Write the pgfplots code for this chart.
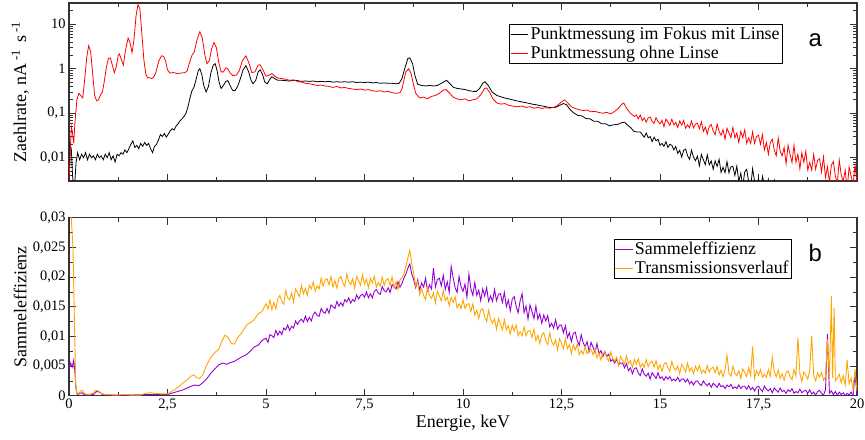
\documentclass[border=0pt]{standalone}
\usepackage{fontspec}
\setmainfont{Liberation Serif}
\newfontfamily\arialfont{Liberation Sans}
\usepackage{pgfplots}
\pgfplotsset{compat=1.18}
\definecolor{myviolet}{RGB}{148,0,211}
\definecolor{myorange}{RGB}{255,165,0}
\pgfplotsset{common/.style={
  width=788bp, height=178bp, scale only axis,
  xmin=0, xmax=20,
  xtick={0,2.5,5,7.5,10,12.5,15,17.5,20}, minor x tick num=1,
  tick align=inside, major tick length=7bp, minor tick length=4bp,
  axis line style={line width=1.1pt, black!80},
  tick style={black!80, line width=0.7pt},
  tick label style={font=\fontsize{14.5}{16}\selectfont},
  label style={font=\fontsize{18}{20}\selectfont},
  ylabel style={at={(axis description cs:-0.062,0.5)}, anchor=center},
  legend style={font=\fontsize{18}{20}\selectfont, draw=black, line width=0.6pt, inner sep=1pt, row sep=1pt, cells={anchor=west}},
  legend cell align=left,
}}
\begin{document}
\begin{tikzpicture}
\path[use as bounding box] (-69bp,3bp) rectangle (796bp,-437bp);
\begin{axis}[common, at={(0,0)}, anchor=north west,
  ymode=log, ymin=0.003, ymax=30,
  ytick={0.01,0.1,1,10}, yticklabels={{0,01},{0,1},1,10},
  minor ytick={0.003,0.004,0.005,0.006,0.007,0.008,0.009,0.02,0.03,0.04,0.05,0.06,0.07,0.08,0.09,0.2,0.3,0.4,0.5,0.6,0.7,0.8,0.9,2,3,4,5,6,7,8,9,20,30},
  xticklabels={,,,,,,,,},
  ylabel={Zaehlrate, nA\,\textsuperscript{-1}\, s\,\textsuperscript{-1}},
  legend style={at={(0.906,0.882)}, anchor=north east},
]
\addplot[black, line width=0.8pt] table[row sep=\\] {x y\\
0.00 0.003\\ 0.03 0.021\\ 0.06 0.015\\ 0.09 0.004\\ 0.12 0.002\\ 0.15 0.003\\ 0.18 0.008\\ 0.22 0.013\\ 0.27 0.009\\ 0.32 0.012\\
0.37 0.010\\ 0.42 0.013\\ 0.47 0.009\\ 0.52 0.012\\ 0.57 0.010\\ 0.62 0.011\\ 0.67 0.009\\ 0.72 0.012\\ 0.77 0.010\\ 0.82 0.011\\
0.87 0.009\\ 0.92 0.012\\ 0.97 0.010\\ 1.02 0.013\\ 1.07 0.009\\ 1.12 0.011\\ 1.17 0.008\\ 1.22 0.012\\ 1.27 0.011\\ 1.32 0.013\\
1.37 0.012\\ 1.42 0.015\\ 1.47 0.013\\ 1.52 0.016\\ 1.57 0.020\\ 1.62 0.024\\ 1.67 0.017\\ 1.72 0.019\\ 1.77 0.016\\ 1.82 0.021\\
1.87 0.018\\ 1.92 0.022\\ 1.97 0.019\\ 2.02 0.021\\ 2.07 0.016\\ 2.12 0.013\\ 2.17 0.018\\ 2.22 0.020\\ 2.27 0.025\\ 2.32 0.033\\
2.37 0.030\\ 2.42 0.035\\ 2.47 0.029\\ 2.52 0.034\\ 2.57 0.040\\ 2.62 0.045\\ 2.67 0.042\\ 2.72 0.052\\ 2.77 0.058\\ 2.82 0.068\\
2.87 0.075\\ 2.92 0.085\\ 2.97 0.10\\ 3.02 0.14\\ 3.07 0.22\\ 3.12 0.32\\ 3.17 0.38\\ 3.22 0.55\\ 3.28 0.90\\ 3.32 1.0\\
3.37 0.75\\ 3.42 0.42\\ 3.48 0.30\\ 3.54 0.40\\ 3.60 0.80\\ 3.66 1.2\\ 3.71 1.3\\ 3.76 0.90\\ 3.81 0.50\\ 3.86 0.36\\
3.92 0.42\\ 3.98 0.52\\ 4.03 0.54\\ 4.09 0.42\\ 4.15 0.33\\ 4.21 0.32\\ 4.28 0.40\\ 4.35 0.60\\ 4.42 0.95\\ 4.49 1.17\\
4.56 0.85\\ 4.62 0.55\\ 4.67 0.46\\ 4.74 0.55\\ 4.80 0.85\\ 4.85 0.95\\ 4.91 0.75\\ 4.97 0.50\\ 5.03 0.46\\ 5.10 0.58\\
5.15 0.66\\ 5.22 0.60\\ 5.30 0.55\\ 5.4 0.55\\ 5.5 0.54\\ 5.6 0.53\\ 5.7 0.55\\ 5.8 0.54\\ 5.9 0.52\\ 6.0 0.53\\
6.1 0.52\\ 6.2 0.53\\ 6.3 0.51\\ 6.4 0.52\\ 6.5 0.51\\ 6.6 0.52\\ 6.7 0.50\\ 6.8 0.51\\ 6.9 0.50\\ 7.0 0.51\\
7.1 0.50\\ 7.2 0.51\\ 7.3 0.49\\ 7.4 0.50\\ 7.5 0.49\\ 7.6 0.50\\ 7.7 0.48\\ 7.8 0.49\\ 7.9 0.47\\ 8.0 0.48\\
8.1 0.47\\ 8.2 0.47\\ 8.3 0.46\\ 8.38 0.47\\ 8.45 0.60\\ 8.52 1.0\\ 8.60 1.7\\ 8.65 1.76\\ 8.72 1.3\\ 8.78 0.70\\
8.85 0.45\\ 8.95 0.42\\ 9.05 0.41\\ 9.15 0.42\\ 9.25 0.41\\ 9.35 0.42\\ 9.43 0.46\\ 9.50 0.50\\ 9.58 0.55\\ 9.66 0.47\\
9.76 0.38\\ 9.86 0.36\\ 9.96 0.35\\ 10.06 0.34\\ 10.16 0.32\\ 10.26 0.31\\ 10.34 0.31\\ 10.42 0.36\\ 10.50 0.47\\ 10.56 0.51\\
10.64 0.42\\ 10.74 0.30\\ 10.86 0.25\\ 10.96 0.235\\ 11.06 0.22\\ 11.16 0.21\\ 11.26 0.20\\ 11.36 0.19\\ 11.46 0.182\\ 11.56 0.175\\
11.66 0.168\\ 11.76 0.16\\ 11.86 0.155\\ 11.96 0.148\\ 12.06 0.143\\ 12.16 0.136\\ 12.26 0.134\\ 12.36 0.136\\ 12.45 0.15\\ 12.55 0.165\\
12.63 0.155\\ 12.72 0.12\\ 12.82 0.10\\ 12.92 0.089\\ 13.02 0.087\\ 13.12 0.076\\ 13.22 0.075\\ 13.32 0.066\\ 13.42 0.066\\ 13.52 0.058\\
13.62 0.058\\ 13.72 0.052\\ 13.82 0.055\\ 13.92 0.056\\ 14.02 0.061\\ 14.10 0.063\\ 14.18 0.054\\ 14.26 0.047\\ 14.34 0.039\\ 14.42 0.038\\
14.50 0.038\\ 14.55 0.033\\ 14.60 0.029\\ 14.65 0.036\\ 14.70 0.028\\ 14.75 0.030\\ 14.80 0.023\\ 14.85 0.029\\ 14.90 0.024\\ 14.95 0.026\\
15.00 0.019\\ 15.05 0.021\\ 15.10 0.018\\ 15.15 0.023\\ 15.20 0.017\\ 15.25 0.020\\ 15.30 0.019\\ 15.35 0.015\\ 15.40 0.018\\ 15.45 0.0125\\
15.50 0.0147\\ 15.55 0.0103\\ 15.60 0.0147\\ 15.65 0.0156\\ 15.70 0.0111\\ 15.75 0.0092\\ 15.80 0.0148\\ 15.85 0.0103\\ 15.90 0.0086\\ 15.95 0.0108\\
16.00 0.0066\\ 16.05 0.0118\\ 16.10 0.0090\\ 16.15 0.0070\\ 16.20 0.0116\\ 16.25 0.0069\\ 16.30 0.0085\\ 16.35 0.0055\\ 16.40 0.0085\\ 16.45 0.0064\\
16.50 0.0092\\ 16.55 0.0047\\ 16.60 0.0061\\ 16.65 0.0046\\ 16.70 0.0082\\ 16.75 0.0046\\ 16.80 0.0062\\ 16.85 0.0064\\ 16.90 0.0040\\ 16.95 0.0065\\
17.00 0.0029\\ 17.05 0.0045\\ 17.10 0.0023\\ 17.15 0.0048\\ 17.20 0.0055\\ 17.25 0.0029\\ 17.30 0.0021\\ 17.35 0.0057\\ 17.40 0.0030\\ 17.45 0.0022\\
17.50 0.0034\\ 17.55 0.0015\\ 17.60 0.0038\\ 17.65 0.0025\\ 17.70 0.0017\\ 17.75 0.0032\\ 17.80 0.0016\\ 17.85 0.0021\\ 17.90 0.0031\\ 17.95 0.0014\\
18.00 0.0010\\ 20.00 0.0005\\
};
\addlegendentry{Punktmessung im Fokus mit Linse}
\addplot[red, line width=0.8pt] table[row sep=\\] {x y\\
0.00 0.003\\ 0.03 0.012\\ 0.06 0.05\\ 0.09 0.035\\ 0.12 0.021\\ 0.15 0.06\\ 0.20 0.20\\ 0.25 0.28\\ 0.30 0.25\\ 0.35 0.22\\
0.40 0.6\\ 0.45 1.8\\ 0.50 3.3\\ 0.55 2.4\\ 0.60 0.8\\ 0.65 0.25\\ 0.70 0.19\\ 0.75 0.20\\ 0.80 0.26\\ 0.85 0.30\\
0.90 0.55\\ 0.95 1.1\\ 1.00 1.7\\ 1.05 1.75\\ 1.10 1.2\\ 1.15 0.82\\ 1.20 1.1\\ 1.25 2.0\\ 1.28 2.15\\ 1.33 1.6\\
1.38 1.2\\ 1.43 2.5\\ 1.50 4.9\\ 1.55 3.8\\ 1.60 2.3\\ 1.65 4.5\\ 1.70 15\\ 1.75 28\\ 1.80 22\\ 1.85 6\\
1.90 1.6\\ 1.95 0.75\\ 2.00 0.62\\ 2.05 0.63\\ 2.10 0.60\\ 2.15 0.65\\ 2.20 0.8\\ 2.28 1.5\\ 2.35 1.95\\ 2.40 1.9\\
2.45 1.5\\ 2.50 0.95\\ 2.56 0.80\\ 2.65 0.82\\ 2.75 0.78\\ 2.85 0.80\\ 2.95 0.82\\ 3.00 0.9\\ 3.05 1.3\\ 3.12 2.0\\
3.18 2.4\\ 3.25 4.5\\ 3.32 6.8\\ 3.38 5.0\\ 3.45 2.0\\ 3.50 1.3\\ 3.56 1.5\\ 3.62 2.8\\ 3.68 3.9\\ 3.74 3.0\\
3.80 1.4\\ 3.86 0.85\\ 3.92 0.85\\ 3.98 1.05\\ 4.03 1.0\\ 4.09 0.8\\ 4.16 0.70\\ 4.25 0.72\\ 4.32 0.9\\ 4.40 1.5\\
4.49 1.95\\ 4.56 1.4\\ 4.64 0.82\\ 4.72 0.85\\ 4.80 1.2\\ 4.85 1.23\\ 4.92 0.95\\ 5.00 0.68\\ 5.08 0.72\\ 5.15 0.78\\
5.22 0.68\\ 5.30 0.62\\ 5.4 0.60\\ 5.5 0.58\\ 5.6 0.55\\ 5.7 0.56\\ 5.8 0.52\\ 5.9 0.50\\ 6.0 0.47\\ 6.1 0.46\\
6.2 0.44\\ 6.3 0.42\\ 6.4 0.43\\ 6.5 0.41\\ 6.6 0.40\\ 6.7 0.38\\ 6.8 0.40\\ 6.9 0.37\\ 7.0 0.38\\ 7.1 0.36\\
7.2 0.35\\ 7.3 0.34\\ 7.4 0.35\\ 7.5 0.33\\ 7.6 0.34\\ 7.7 0.32\\ 7.8 0.31\\ 7.9 0.32\\ 8.0 0.30\\ 8.1 0.31\\
8.2 0.29\\ 8.3 0.28\\ 8.4 0.29\\ 8.45 0.35\\ 8.50 0.55\\ 8.55 0.85\\ 8.62 1.0\\ 8.68 0.8\\ 8.74 0.45\\ 8.80 0.28\\
8.9 0.22\\ 9.0 0.23\\ 9.1 0.21\\ 9.2 0.24\\ 9.3 0.25\\ 9.4 0.28\\ 9.5 0.33\\ 9.57 0.34\\ 9.65 0.29\\ 9.75 0.23\\
9.85 0.21\\ 9.95 0.20\\ 10.05 0.21\\ 10.15 0.19\\ 10.25 0.20\\ 10.35 0.21\\ 10.45 0.26\\ 10.55 0.36\\ 10.60 0.37\\ 10.68 0.29\\
10.76 0.21\\ 10.86 0.17\\ 10.96 0.16\\ 11.06 0.165\\ 11.16 0.15\\ 11.26 0.145\\ 11.37 0.14\\ 11.5 0.145\\ 11.6 0.135\\ 11.7 0.14\\
11.8 0.13\\ 11.9 0.135\\ 12.0 0.128\\ 12.1 0.133\\ 12.2 0.13\\ 12.3 0.135\\ 12.4 0.15\\ 12.5 0.18\\ 12.58 0.20\\ 12.66 0.17\\
12.75 0.14\\ 12.85 0.128\\ 12.95 0.12\\ 13.05 0.115\\ 13.15 0.118\\ 13.25 0.108\\ 13.35 0.11\\ 13.45 0.104\\ 13.55 0.10\\ 13.65 0.105\\
13.75 0.097\\ 13.85 0.11\\ 13.95 0.13\\ 14.03 0.16\\ 14.08 0.17\\ 14.15 0.13\\ 14.25 0.10\\ 14.35 0.085\\
14.40 0.091\\ 14.45 0.075\\ 14.50 0.091\\ 14.55 0.068\\ 14.60 0.078\\ 14.65 0.063\\ 14.70 0.079\\ 14.75 0.082\\ 14.80 0.066\\ 14.85 0.059\\
14.90 0.080\\ 14.95 0.065\\ 15.00 0.058\\ 15.05 0.069\\ 15.10 0.050\\ 15.15 0.074\\ 15.20 0.064\\ 15.25 0.053\\ 15.30 0.074\\ 15.35 0.055\\
15.40 0.062\\ 15.45 0.048\\ 15.50 0.067\\ 15.55 0.054\\ 15.60 0.069\\ 15.65 0.046\\ 15.70 0.055\\ 15.75 0.047\\ 15.80 0.067\\ 15.85 0.047\\
15.90 0.057\\ 15.95 0.060\\ 16.00 0.045\\ 16.05 0.064\\ 16.10 0.039\\ 16.15 0.049\\ 16.20 0.034\\ 16.25 0.051\\ 16.30 0.056\\ 16.35 0.040\\
16.40 0.033\\ 16.45 0.057\\ 16.50 0.039\\ 16.55 0.032\\ 16.60 0.043\\ 16.65 0.026\\ 16.70 0.046\\ 16.75 0.036\\ 16.80 0.028\\ 16.85 0.048\\
16.90 0.028\\ 16.95 0.036\\ 17.00 0.022\\ 17.05 0.039\\ 17.10 0.028\\ 17.15 0.042\\ 17.20 0.021\\ 17.25 0.028\\ 17.30 0.021\\ 17.35 0.038\\
17.40 0.021\\ 17.45 0.030\\ 17.50 0.032\\ 17.55 0.020\\ 17.60 0.033\\ 17.65 0.015\\ 17.70 0.022\\ 17.75 0.012\\ 17.80 0.022\\ 17.85 0.026\\
17.90 0.015\\ 17.95 0.011\\ 18.00 0.028\\ 18.05 0.014\\ 18.10 0.011\\ 18.15 0.017\\ 18.20 0.0073\\ 18.25 0.019\\ 18.30 0.012\\ 18.35 0.0078\\
18.40 0.019\\ 18.45 0.0079\\ 18.50 0.012\\ 18.55 0.0056\\ 18.60 0.013\\ 18.65 0.0079\\ 18.70 0.014\\ 18.75 0.0053\\ 18.80 0.0078\\ 18.85 0.0053\\
18.90 0.012\\ 18.95 0.0055\\ 19.00 0.0087\\ 19.05 0.0095\\ 19.10 0.0048\\ 19.15 0.0105\\ 19.20 0.0036\\ 19.25 0.0062\\ 19.30 0.0028\\ 19.35 0.0068\\
19.40 0.0082\\ 19.45 0.0039\\ 19.50 0.0027\\ 19.55 0.0088\\ 19.60 0.0041\\ 19.65 0.0030\\ 19.70 0.0052\\ 19.75 0.0020\\ 19.80 0.0062\\ 19.85 0.0039\\
19.90 0.0025\\ 19.95 0.0068\\ 20.00 0.0027\\
};
\addlegendentry{Punktmessung ohne Linse}
\node[font=\arialfont\fontsize{24}{26}\selectfont] at (rel axis cs:0.947,0.79) {a};
\end{axis}

\begin{axis}[common, at={(0,-214.7bp)}, anchor=north west,
  ymin=0, ymax=0.03, scaled y ticks=false,
  ytick={0,0.005,0.01,0.015,0.02,0.025,0.03},
  yticklabels={0,{0,005},{0,01},{0,015},{0,02},{0,025},{0,03}},
  minor y tick num=1,
  xticklabels={0,{2,5},5,{7,5},10,{12,5},15,{17,5},20},
  xlabel={Energie, keV},
  xlabel style={at={(axis description cs:0.5,-0.152)}, anchor=center},
  ylabel={Sammeleffizienz},
  legend style={at={(0.9175,0.882)}, anchor=north east},
]
\addplot[myviolet, line width=0.9pt] table[row sep=\\] {x y\\
0.00 0.0045\\ 0.04 0.0055\\ 0.08 0.0048\\ 0.12 0.0060\\ 0.15 0.0040\\ 0.18 0.0010\\ 0.22 0.0002\\ 0.28 0.0004\\ 0.33 0.0005\\ 0.38 0.0002\\
0.50 0.0001\\ 0.62 0.0002\\ 0.70 0.0007\\ 0.78 0.0006\\ 0.85 0.0002\\ 1.0 0.0001\\ 1.5 0.0001\\ 2.0 0.0002\\ 2.5 0.0002\\ 2.6 0.0004\\
2.7 0.0006\\ 2.8 0.0008\\ 2.9 0.0010\\ 3.0 0.0013\\ 3.1 0.0016\\ 3.2 0.0018\\ 3.3 0.0017\\ 3.4 0.0022\\ 3.5 0.0029\\ 3.6 0.0038\\
3.7 0.0045\\ 3.8 0.0052\\ 3.9 0.0055\\ 4.0 0.0053\\ 4.1 0.0056\\ 4.2 0.0058\\ 4.3 0.0062\\ 4.4 0.0066\\ 4.5 0.0069\\ 4.6 0.0075\\
4.7 0.0082\\ 4.8 0.0085\\ 4.9 0.0093\\
5.00 .0097\\ 5.05 .0090\\ 5.10 .0103\\ 5.15 .0101\\ 5.20 .0098\\ 5.25 .0110\\ 5.30 .0102\\ 5.35 .0109\\ 5.40 .0103\\ 5.45 .0114\\
5.50 .0111\\ 5.55 .0119\\ 5.60 .0110\\ 5.65 .0117\\ 5.70 .0114\\ 5.75 .0126\\ 5.80 .0120\\ 5.85 .0126\\ 5.90 .0129\\ 5.95 .0124\\
6.00 .0134\\ 6.05 .0125\\ 6.10 .0132\\ 6.15 .0126\\ 6.20 .0137\\ 6.25 .0141\\ 6.30 .0135\\ 6.35 .0134\\ 6.40 .0147\\ 6.45 .0141\\
6.50 .0139\\ 6.55 .0147\\ 6.60 .0139\\ 6.65 .0153\\ 6.70 .0150\\ 6.75 .0147\\ 6.80 .0159\\ 6.85 .0151\\ 6.90 .0157\\ 6.95 .0151\\
7.00 .0162\\ 7.05 .0158\\ 7.10 .0165\\ 7.15 .0156\\ 7.20 .0162\\ 7.25 .0159\\ 7.30 .0170\\ 7.35 .0163\\ 7.40 .0169\\ 7.45 .0171\\
7.50 .0166\\ 7.55 .0175\\ 7.60 .0165\\ 7.65 .0172\\ 7.70 .0165\\ 7.75 .0176\\ 7.80 .0179\\ 7.85 .0173\\ 7.90 .0171\\ 7.95 .0184\\
8.00 .0177\\ 8.05 .0175\\ 8.10 .0182\\ 8.15 .0174\\ 8.20 .0187\\ 8.25 .0184\\ 8.30 .0180\\ 8.35 .0192\\ 8.40 .0183\\ 8.45 .0189\\
8.50 .0198\\ 8.55 .0205\\ 8.60 .0215\\ 8.65 .0222\\ 8.70 .0205\\ 8.75 .0195\\ 8.80 .0182\\ 8.85 .0195\\ 8.90 .0178\\ 8.95 .0190\\
9.00 .0183\\ 9.05 .0198\\ 9.10 .0177\\ 9.15 .0187\\ 9.20 .0180\\ 9.25 .0215\\ 9.30 .0183\\ 9.35 .0196\\ 9.40 .0198\\ 9.45 .0185\\
9.50 .0203\\ 9.55 .0179\\ 9.60 .0192\\ 9.65 .0174\\ 9.70 .0218\\ 9.75 .0199\\ 9.80 .0182\\ 9.85 .0174\\ 9.90 .0201\\ 9.95 .0184\\
10.00 .0176\\ 10.05 .0188\\ 10.10 .0166\\ 10.15 .0205\\ 10.20 .0180\\ 10.25 .0169\\ 10.30 .0191\\ 10.35 .0169\\ 10.40 .0178\\ 10.45 .0160\\
10.50 .0180\\ 10.55 .0168\\ 10.60 .0182\\ 10.65 .0159\\ 10.70 .0168\\ 10.75 .0159\\ 10.80 .0179\\ 10.85 .0160\\ 10.90 .0171\\ 10.95 .0172\\
11.00 .0157\\ 11.05 .0174\\ 11.10 .0150\\ 11.15 .0161\\ 11.20 .0143\\ 11.25 .0163\\ 11.30 .0167\\ 11.35 .0150\\ 11.40 .0140\\ 11.45 .0160\\
11.50 .0172\\ 11.55 .0140\\ 11.60 .0151\\ 11.65 .0129\\ 11.70 .0153\\ 11.75 .0142\\ 11.80 .0130\\ 11.85 .0151\\ 11.90 .0129\\ 11.95 .0138\\
12.00 .0122\\ 12.05 .0136\\ 12.10 .0126\\ 12.15 .0135\\ 12.20 .0116\\ 12.25 .0122\\ 12.30 .0114\\ 12.35 .0128\\ 12.40 .0112\\ 12.45 .0119\\
12.50 .0119\\ 12.55 .0106\\ 12.60 .0118\\ 12.65 .0098\\ 12.70 .0106\\ 12.75 .0091\\ 12.80 .0105\\ 12.85 .0107\\ 12.90 .0093\\ 12.95 .0085\\
13.00 .0103\\ 13.05 .0089\\ 13.10 .0083\\ 13.15 .0091\\ 13.20 .0074\\ 13.25 .0090\\ 13.30 .0082\\ 13.35 .0073\\ 13.40 .0088\\ 13.45 .0071\\
13.50 .0076\\ 13.55 .0066\\ 13.60 .0074\\ 13.65 .0066\\ 13.70 .0070\\ 13.75 .0058\\ 13.80 .0061\\ 13.85 .0055\\ 13.90 .0062\\ 13.95 .0052\\
14.00 .0055\\ 14.05 .0055\\ 14.10 .0047\\ 14.15 .0054\\ 14.20 .0042\\ 14.25 .0047\\ 14.30 .0037\\ 14.35 .0046\\ 14.40 .0047\\ 14.45 .0038\\
14.50 .0034\\ 14.55 .0045\\ 14.60 .0036\\ 14.65 .0033\\ 14.70 .0038\\ 14.75 .0028\\ 14.80 .0039\\ 14.85 .0034\\ 14.90 .0029\\ 14.95 .0039\\
15.00 .0029\\ 15.05 .0032\\ 15.10 .0026\\ 15.15 .0032\\ 15.20 .0028\\ 15.25 .0032\\ 15.30 .0025\\ 15.35 .0028\\ 15.40 .0025\\ 15.45 .0031\\
15.50 .0024\\ 15.55 .0028\\ 15.60 .0028\\ 15.65 .0023\\ 15.70 .0028\\ 15.75 .0020\\ 15.80 .0024\\ 15.85 .0018\\ 15.90 .0024\\ 15.95 .0025\\
16.00 .0020\\ 16.05 .0017\\ 16.10 .0025\\ 16.15 .0020\\ 16.20 .0017\\ 16.25 .0021\\ 16.30 .0014\\ 16.35 .0021\\ 16.40 .0018\\ 16.45 .0014\\
16.50 .0021\\ 16.55 .0015\\ 16.60 .0017\\ 16.65 .0012\\ 16.70 .0018\\ 16.75 .0015\\ 16.80 .0019\\ 16.85 .0012\\ 16.90 .0015\\ 16.95 .0012\\
17.00 .0018\\ 17.05 .0012\\ 17.10 .0016\\ 17.15 .0016\\ 17.20 .0011\\ 17.25 .0017\\ 17.30 .0010\\ 17.35 .0014\\ 17.40 .0008\\ 17.45 .0014\\
17.50 .0016\\ 17.55 .0011\\ 17.60 .0007\\ 17.65 .0016\\ 17.70 .0011\\ 17.75 .0008\\ 17.80 .0012\\ 17.85 .0005\\ 17.90 .0013\\ 17.95 .0009\\
18.00 .0006\\ 18.05 .0013\\ 18.10 .0007\\ 18.15 .0009\\ 18.20 .0004\\ 18.25 .0010\\ 18.30 .0007\\ 18.35 .0012\\ 18.40 .0004\\ 18.45 .0007\\
18.50 .0005\\ 18.55 .0011\\ 18.60 .0005\\ 18.65 .0008\\ 18.70 .0009\\ 18.75 .0004\\ 18.80 .0010\\ 18.85 .0003\\ 18.90 .0006\\ 18.95 .0001\\
19.00 .0007\\ 19.05 .0009\\ 19.10 .0004\\ 19.15 .0001\\ 19.20 .0010\\ 19.25 .0104\\ 19.30 .0004\\ 19.35 .0008\\ 19.40 .0002\\ 19.45 .0007\\
19.50 .0001\\ 19.55 .0006\\ 19.60 .0002\\ 19.65 .0005\\ 19.70 .0000\\ 19.75 .0004\\ 19.80 .0001\\ 19.85 .0006\\ 19.90 .0000\\ 19.95 .0037\\ 20.00 .0002\\
};
\addlegendentry{Sammeleffizienz}
\addplot[myorange, line width=0.9pt] table[row sep=\\] {x y\\
0.00 0.032\\ 0.05 0.031\\ 0.10 0.025\\ 0.14 0.012\\ 0.17 0.002\\ 0.20 0.0003\\ 0.25 0.0004\\ 0.30 0.0008\\ 0.35 0.0009\\ 0.40 0.0003\\
0.50 0.0002\\ 0.60 0.0004\\ 0.68 0.0009\\ 0.75 0.0008\\ 0.82 0.0004\\ 0.90 0.0002\\ 1.0 0.0002\\ 1.2 0.0001\\ 1.4 0.0002\\ 1.6 0.0001\\
1.8 0.0001\\ 1.95 0.0004\\ 2.05 0.0005\\ 2.2 0.0004\\ 2.35 0.0003\\ 2.5 0.0003\\ 2.6 0.0007\\ 2.7 0.0011\\ 2.8 0.0016\\ 2.9 0.0022\\
3.0 0.0027\\ 3.1 0.0033\\ 3.17 0.0035\\ 3.25 0.0030\\ 3.32 0.0029\\ 3.4 0.0036\\ 3.48 0.0050\\ 3.56 0.0060\\ 3.64 0.0068\\ 3.72 0.0074\\
3.8 0.0078\\ 3.88 0.0092\\ 3.96 0.0102\\ 4.04 0.0098\\ 4.12 0.0088\\ 4.2 0.0087\\ 4.28 0.0098\\ 4.36 0.0104\\ 4.44 0.0112\\ 4.52 0.0120\\
4.6 0.0123\\ 4.7 0.0128\\ 4.8 0.0138\\ 4.9 0.0142\\
5.00 .0155\\ 5.05 .0146\\ 5.10 .0161\\ 5.15 .0145\\ 5.20 .0157\\ 5.25 .0146\\ 5.30 .0163\\ 5.35 .0169\\ 5.40 .0159\\ 5.45 .0154\\
5.50 .0177\\ 5.55 .0165\\ 5.60 .0162\\ 5.65 .0173\\ 5.70 .0158\\ 5.75 .0180\\ 5.80 .0174\\ 5.85 .0167\\ 5.90 .0186\\ 5.95 .0172\\
6.00 .0181\\ 6.05 .0169\\ 6.10 .0186\\ 6.15 .0180\\ 6.20 .0192\\ 6.25 .0176\\ 6.30 .0185\\ 6.35 .0180\\ 6.40 .0198\\ 6.45 .0185\\
6.50 .0195\\ 6.55 .0197\\ 6.60 .0187\\ 6.65 .0201\\ 6.70 .0183\\ 6.75 .0194\\ 6.80 .0181\\ 6.85 .0197\\ 6.90 .0201\\ 6.95 .0190\\
7.00 .0184\\ 7.05 .0205\\ 7.10 .0192\\ 7.15 .0187\\ 7.20 .0197\\ 7.25 .0181\\ 7.30 .0201\\ 7.35 .0194\\ 7.40 .0186\\ 7.45 .0204\\
7.50 .0188\\ 7.55 .0196\\ 7.60 .0182\\ 7.65 .0198\\ 7.70 .0190\\ 7.75 .0201\\ 7.80 .0183\\ 7.85 .0191\\ 7.90 .0185\\ 7.95 .0200\\
8.00 .0186\\ 8.05 .0195\\ 8.10 .0197\\ 8.15 .0186\\ 8.20 .0200\\ 8.25 .0182\\ 8.30 .0192\\ 8.35 .0179\\ 8.40 .0195\\ 8.45 .0199\\
8.50 .0205\\ 8.55 .0218\\ 8.60 .0232\\ 8.65 .0245\\ 8.70 .0222\\ 8.75 .0205\\ 8.80 .0185\\ 8.85 .0192\\ 8.90 .0170\\ 8.95 .0180\\
9.00 .0169\\ 9.05 .0162\\ 9.10 .0183\\ 9.15 .0169\\ 9.20 .0164\\ 9.25 .0173\\ 9.30 .0156\\ 9.35 .0176\\ 9.40 .0168\\ 9.45 .0160\\
9.50 .0177\\ 9.55 .0160\\ 9.60 .0166\\ 9.65 .0152\\ 9.70 .0166\\ 9.75 .0157\\ 9.80 .0167\\ 9.85 .0148\\ 9.90 .0155\\ 9.95 .0147\\
10.00 .0162\\ 10.05 .0147\\ 10.10 .0154\\ 10.15 .0155\\ 10.20 .0142\\ 10.25 .0155\\ 10.30 .0136\\ 10.35 .0144\\ 10.40 .0130\\ 10.45 .0144\\
10.50 .0147\\ 10.55 .0133\\ 10.60 .0125\\ 10.65 .0144\\ 10.70 .0129\\ 10.75 .0122\\ 10.80 .0130\\ 10.85 .0112\\ 10.90 .0130\\ 10.95 .0121\\
11.00 .0111\\ 11.05 .0128\\ 11.10 .0111\\ 11.15 .0118\\ 11.20 .0104\\ 11.25 .0119\\ 11.30 .0109\\ 11.35 .0119\\ 11.40 .0101\\ 11.45 .0108\\
11.50 .0101\\ 11.55 .0116\\ 11.60 .0101\\ 11.65 .0109\\ 11.70 .0110\\ 11.75 .0098\\ 11.80 .0112\\ 11.85 .0093\\ 11.90 .0102\\ 11.95 .0088\\
12.00 .0103\\ 12.05 .0106\\ 12.10 .0093\\ 12.15 .0086\\ 12.20 .0106\\ 12.25 .0091\\ 12.30 .0085\\ 12.35 .0094\\ 12.40 .0077\\ 12.45 .0096\\
12.50 .0088\\ 12.55 .0079\\ 12.60 .0096\\ 12.65 .0079\\ 12.70 .0086\\ 12.75 .0071\\ 12.80 .0086\\ 12.85 .0077\\ 12.90 .0087\\ 12.95 .0069\\
13.00 .0076\\ 13.05 .0070\\ 13.10 .0083\\ 13.15 .0071\\ 13.20 .0077\\ 13.25 .0078\\ 13.30 .0069\\ 13.35 .0079\\ 13.40 .0064\\ 13.45 .0072\\
13.50 .0060\\ 13.55 .0072\\ 13.60 .0074\\ 13.65 .0064\\ 13.70 .0058\\ 13.75 .0074\\ 13.80 .0063\\ 13.85 .0058\\ 13.90 .0065\\ 13.95 .0051\\
14.00 .0066\\ 14.05 .0060\\ 14.10 .0053\\ 14.15 .0067\\ 14.20 .0054\\ 14.25 .0059\\ 14.30 .0048\\ 14.35 .0061\\ 14.40 .0053\\ 14.45 .0062\\
14.50 .0048\\ 14.55 .0054\\ 14.60 .0048\\ 14.65 .0061\\ 14.70 .0049\\ 14.75 .0056\\ 14.80 .0058\\ 14.85 .0048\\ 14.90 .0059\\ 14.95 .0044\\
15.00 .0052\\ 15.05 .0041\\ 15.10 .0053\\ 15.15 .0056\\ 15.20 .0047\\ 15.25 .0041\\ 15.30 .0058\\ 15.35 .0047\\ 15.40 .0043\\ 15.45 .0050\\
15.50 .0037\\ 15.55 .0053\\ 15.60 .0047\\ 15.65 .0040\\ 15.70 .0055\\ 15.75 .0041\\ 15.80 .0047\\ 15.85 .0037\\ 15.90 .0050\\ 15.95 .0042\\
16.00 .0051\\ 16.05 .0038\\ 16.10 .0043\\ 16.15 .0038\\ 16.20 .0051\\ 16.25 .0040\\ 16.30 .0046\\ 16.35 .0048\\ 16.40 .0039\\ 16.45 .0049\\
16.50 .0035\\ 16.55 .0043\\ 16.60 .0032\\ 16.65 .0044\\ 16.70 .0068\\ 16.75 .0038\\ 16.80 .0033\\ 16.85 .0050\\ 16.90 .0038\\ 16.95 .0034\\
17.00 .0042\\ 17.05 .0029\\ 17.10 .0045\\ 17.15 .0039\\ 17.20 .0032\\ 17.25 .0047\\ 17.30 .0034\\ 17.35 .0083\\ 17.40 .0029\\ 17.45 .0042\\
17.50 .0035\\ 17.55 .0044\\ 17.60 .0031\\ 17.65 .0036\\ 17.70 .0031\\ 17.75 .0044\\ 17.80 .0033\\ 17.85 .0065\\ 17.90 .0041\\ 17.95 .0032\\
18.00 .0043\\ 18.05 .0029\\ 18.10 .0037\\ 18.15 .0026\\ 18.20 .0039\\ 18.25 .0042\\ 18.30 .0032\\ 18.35 .0027\\ 18.40 .0044\\ 18.45 .0033\\
18.50 .0098\\ 18.55 .0037\\ 18.60 .0024\\ 18.65 .0040\\ 18.70 .0035\\ 18.75 .0028\\ 18.80 .0043\\ 18.85 .0101\\ 18.90 .0035\\ 18.95 .0025\\
19.00 .0038\\ 19.05 .0031\\ 19.10 .0039\\ 19.15 .0026\\ 19.20 .0032\\ 19.25 .0095\\ 19.30 .0028\\ 19.35 .0168\\ 19.38 .0030\\ 19.42 .0148\\
19.45 .0025\\ 19.50 .0030\\ 19.55 .0036\\ 19.60 .0022\\ 19.65 .0034\\ 19.70 .0018\\ 19.75 .0060\\ 19.80 .0020\\ 19.85 .0030\\ 19.90 .0010\\
19.95 .0045\\ 20.00 .0008\\
};
\addlegendentry{Transmissionsverlauf}
\node[font=\arialfont\fontsize{24}{26}\selectfont] at (rel axis cs:0.947,0.80) {b};
\end{axis}
\end{tikzpicture}
\end{document}
